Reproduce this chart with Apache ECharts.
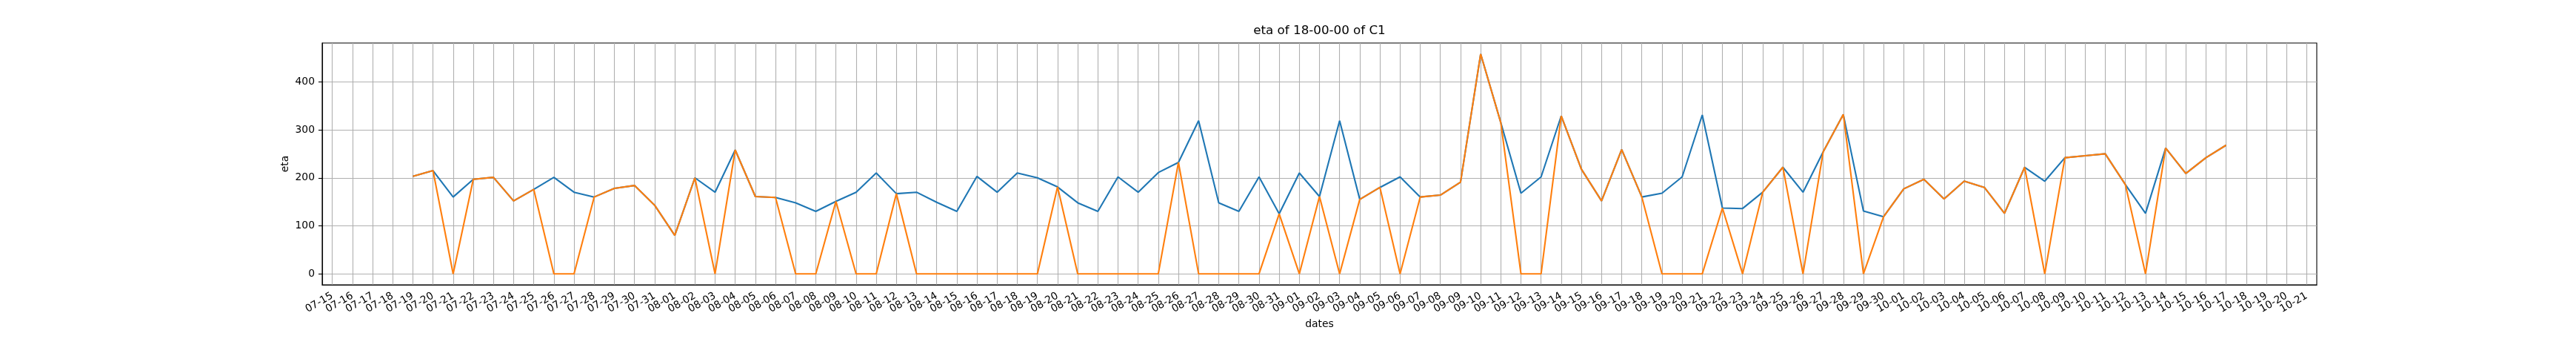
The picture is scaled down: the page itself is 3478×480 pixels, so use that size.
<!DOCTYPE html>
<html>
<head>
<meta charset="utf-8">
<script src="https://cdn.jsdelivr.net/npm/echarts@6/dist/echarts.min.js"></script>
<style>
  html, body { margin: 0; padding: 0; background: #fff; }
  #chart { width: 3478px; height: 480px; }
</style>
</head>
<body>
<div id="chart"></div>
<script>
// every day shown on the x axis
const dates = [
  '07-15','07-16','07-17','07-18','07-19','07-20','07-21','07-22','07-23','07-24','07-25','07-26','07-27','07-28','07-29','07-30','07-31',
  '08-01','08-02','08-03','08-04','08-05','08-06','08-07','08-08','08-09','08-10','08-11','08-12','08-13','08-14','08-15','08-16',
  '08-17','08-18','08-19','08-20','08-21','08-22','08-23','08-24','08-25','08-26','08-27','08-28','08-29','08-30','08-31',
  '09-01','09-02','09-03','09-04','09-05','09-06','09-07','09-08','09-09','09-10','09-11','09-12','09-13','09-14','09-15','09-16',
  '09-17','09-18','09-19','09-20','09-21','09-22','09-23','09-24','09-25','09-26','09-27','09-28','09-29','09-30',
  '10-01','10-02','10-03','10-04','10-05','10-06','10-07','10-08','10-09','10-10','10-11','10-12','10-13','10-14','10-15','10-16',
  '10-17','10-18','10-19','10-20','10-21'
];

// eta values, null where there is no data
const etaBlue = [
  null, null, null, null,
  203, 215, 160, 197, 201, 152, 176, 201, 170, 160, 178, 184, 143,
  80, 200, 170, 258, 161, 159, 148, 130, 151, 170, 210, 167, 170, 149, 130, 203,
  170, 210, 200, 181, 148, 130, 202, 170, 211, 232, 319, 148, 130, 202, 125,
  210, 161, 319, 155, 180, 202, 160, 164, 191, 458, 315, 168, 202, 329, 218, 152,
  259, 160, 168, 202, 331, 137, 136, 170, 222, 170, 254, 332, 131, 119,
  177, 197, 156, 193, 180, 126, 222, 193, 242, 246, 250, 186, 126, 262, 209, 242,
  268, null, null, null, null
];
const etaOrange = [
  null, null, null, null,
  203, 215, 0, 197, 201, 152, 176, 0, 0, 160, 178, 184, 143,
  80, 200, 0, 258, 161, 159, 0, 0, 151, 0, 0, 167, 0, 0, 0, 0,
  0, 0, 0, 181, 0, 0, 0, 0, 0, 232, 0, 0, 0, 0, 125,
  0, 161, 0, 155, 180, 0, 160, 164, 191, 458, 315, 0, 0, 329, 218, 152,
  259, 160, 0, 0, 0, 137, 0, 170, 222, 0, 254, 332, 0, 119,
  177, 197, 156, 193, 180, 126, 222, 0, 242, 246, 250, 186, 0, 262, 209, 242,
  268, null, null, null, null
];
const yTicks = [0, 100, 200, 300, 400];

const chart = echarts.init(document.getElementById('chart'), null, { renderer: 'canvas' });
const font = 'DejaVu Sans';
const plot = { left: 435, top: 58, width: 2693, height: 326 };

const option = {
  animation: false,
  backgroundColor: '#fff',
  grid: {
    left: plot.left, top: plot.top, width: plot.width, height: plot.height,
    show: true, borderColor: '#000', borderWidth: 1.1, backgroundColor: 'transparent'
  },
  graphic: [
    { type: 'text', x: plot.left + plot.width / 2, y: 42,
      style: { text: 'eta of 18-00-00 of C1', font: '16.7px "DejaVu Sans"', fill: '#000',
               textAlign: 'center', textVerticalAlign: 'middle' } },
    { type: 'text', x: plot.left + plot.width / 2, y: 437,
      style: { text: 'dates', font: '13.9px "DejaVu Sans"', fill: '#000',
               textAlign: 'center', textVerticalAlign: 'middle' } },
    { type: 'text', x: 385, y: plot.top + plot.height / 2, rotation: Math.PI / 2,
      style: { text: 'eta', font: '13.9px "DejaVu Sans"', fill: '#000',
               textAlign: 'center', textVerticalAlign: 'middle' } }
  ],
  xAxis: {
    type: 'category',
    data: dates,
    boundaryGap: true,
    axisLine: { onZero: false, lineStyle: { color: '#000', width: 1.1 } },
    axisTick: { alignWithLabel: true, interval: 0, length: 5, lineStyle: { color: '#000', width: 1.1 } },
    axisLabel: { interval: 0, rotate: 30, margin: 14, color: '#000', fontSize: 13.9, fontFamily: font },
    splitLine: { show: true, interval: 0, alignWithLabel: true, lineStyle: { color: '#b0b0b0', width: 1.1 } }
  },
  yAxis: {
    type: 'value',
    min: -22.9,
    max: 480.9,
    splitNumber: 5,
    axisLine: { show: true, lineStyle: { color: '#000', width: 1.1 } },
    axisTick: { show: true, length: 5, customValues: yTicks, lineStyle: { color: '#000', width: 1.1 } },
    axisLabel: { margin: 10, color: '#000', fontSize: 13.9, fontFamily: font, customValues: yTicks },
    splitLine: { show: true, lineStyle: { color: '#b0b0b0', width: 1.1 } }
  },
  series: [
    { type: 'line', data: etaBlue, symbol: 'none', connectNulls: false,
      lineStyle: { color: '#1f77b4', width: 2.1 }, itemStyle: { color: '#1f77b4' } },
    { type: 'line', data: etaOrange, symbol: 'none', connectNulls: false,
      lineStyle: { color: '#ff7f0e', width: 2.1 }, itemStyle: { color: '#ff7f0e' } }
  ]
};

chart.setOption(option);
</script>
</body>
</html>
